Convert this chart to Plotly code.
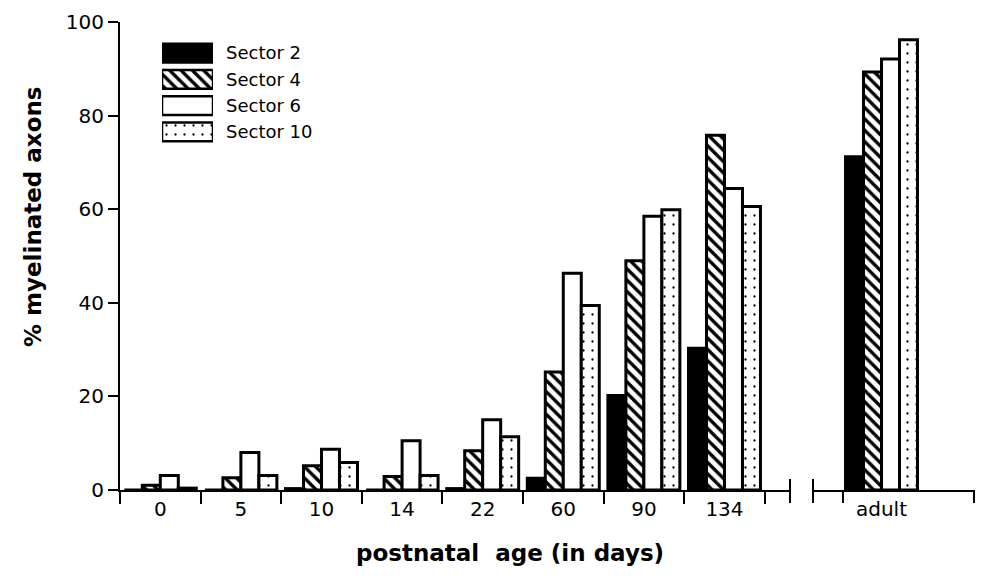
import plotly.graph_objects as go

# ---------------- data ----------------
ages = ["0", "5", "10", "14", "22", "60", "90", "134"]
adult_label = ["adult"]
sector_names = ["Sector 2", "Sector 4", "Sector 6", "Sector 10"]

sector2 = [0.0, 0.0, 0.3, 0.0, 0.3, 2.5, 20.2, 30.3]
sector4 = [1.0, 2.6, 5.2, 2.9, 8.4, 25.2, 49.0, 75.8]
sector6 = [3.1, 8.0, 8.7, 10.5, 15.0, 46.3, 58.5, 64.4]
sector10 = [0.4, 3.1, 5.9, 3.1, 11.4, 39.4, 59.9, 60.6]
adult_values = [71.2, 89.3, 92.1, 96.2]

legend_key = [1]
y_ticks = [0, 20, 40, 60, 80, 100]

series = [sector2, sector4, sector6, sector10]

# ---------------- styles ----------------
fills = ["black", "white", "white", "white"]
pat_shapes = ["", "\\", "", "."]
pat_sizes = [8, 8, 8, 9]
pat_solid = [0.3, 0.42, 0.3, 0.05]

W, H = 985, 582
L, R, T, B = 120, 10, 22, 92
pw, ph = W - L - R, H - T - B


def px(x):
    return (x - L) / pw


def py(y):
    return (H - B - y) / ph


tick_font = dict(family="DejaVu Sans", size=20, color="black")
title_font = dict(family="DejaVu Sans", size=23, color="black")


def make_marker(i, lw=3):
    return dict(
        color=fills[i],
        line=dict(color="black", width=lw),
        pattern=dict(shape=pat_shapes[i], fgcolor="black", bgcolor=fills[i],
                     size=pat_sizes[i], solidity=pat_solid[i], fillmode="replace"),
    )


fig = go.Figure()
for i, name in enumerate(sector_names):
    fig.add_bar(x=ages, y=series[i], name=name, marker=make_marker(i),
                xaxis="x", yaxis="y", showlegend=False)
    fig.add_bar(x=adult_label, y=[adult_values[i]], name=name, marker=make_marker(i),
                xaxis="x2", yaxis="y", showlegend=False)
    # legend key drawn as a small inset of horizontal bars
    fig.add_bar(y=[name], x=legend_key, orientation="h", xaxis="x3", yaxis="y3",
                width=0.72, offsetgroup="legend", showlegend=False,
                hoverinfo="skip", marker=make_marker(i, 2.5))

axis_common = dict(showgrid=False, zeroline=False, linecolor="black", linewidth=2,
                   tickcolor="black", tickwidth=2, tickfont=tick_font)

fig.update_layout(
    width=W, height=H,
    margin=dict(l=L, r=R, t=T, b=B),
    paper_bgcolor="white", plot_bgcolor="white",
    barmode="group", bargap=0.107, bargroupgap=0,
    xaxis=dict(domain=[0, px(790)], anchor="y", type="category",
               range=[-0.5, 7.813], tickson="boundaries", ticks="outside",
               ticklen=12, showline=True, **axis_common),
    xaxis2=dict(domain=[px(813), 1], anchor="y", type="category",
                range=[-0.85, 1.16], ticks="", showline=True, **axis_common),
    yaxis=dict(domain=[0, 1], anchor="x", range=[0, 100], tickmode="array",
               tickvals=y_ticks, ticks="outside", ticklen=10, showline=True,
               **axis_common),
    xaxis3=dict(domain=[px(162), px(213)], anchor="y3", range=[0, 1],
                visible=False, fixedrange=True),
    yaxis3=dict(domain=[py(145), py(40)], anchor="x3", type="category",
                categoryorder="array", categoryarray=sector_names,
                autorange="reversed", side="right", showline=False, ticks="",
                showgrid=False, zeroline=False, ticklabelstandoff=12,
                tickfont=dict(family="DejaVu Sans", size=18, color="black")),
    showlegend=False,
)

# axis decorations: break marks and adult-axis ticks
deco = []
for xb in (790, 813):
    deco.append(dict(type="line", xref="paper", yref="paper",
                     x0=px(xb), x1=px(xb), y0=py(479), y1=py(503),
                     line=dict(color="black", width=2)))
for xt in (843, 974):
    deco.append(dict(type="line", xref="paper", yref="paper",
                     x0=px(xt), x1=px(xt), y0=py(490), y1=py(503),
                     line=dict(color="black", width=2)))
fig.update_layout(shapes=deco)

fig.add_annotation(text="<b>postnatal  age (in days)</b>", xref="paper", yref="paper",
                   x=px(510), y=py(553), xanchor="center", yanchor="middle",
                   showarrow=False, font=title_font)
fig.add_annotation(text="<b>% myelinated axons</b>", xref="paper", yref="paper",
                   x=px(33), y=py(217), xanchor="center", yanchor="middle",
                   textangle=-90, showarrow=False, font=title_font)

fig.write_html("out.html")
